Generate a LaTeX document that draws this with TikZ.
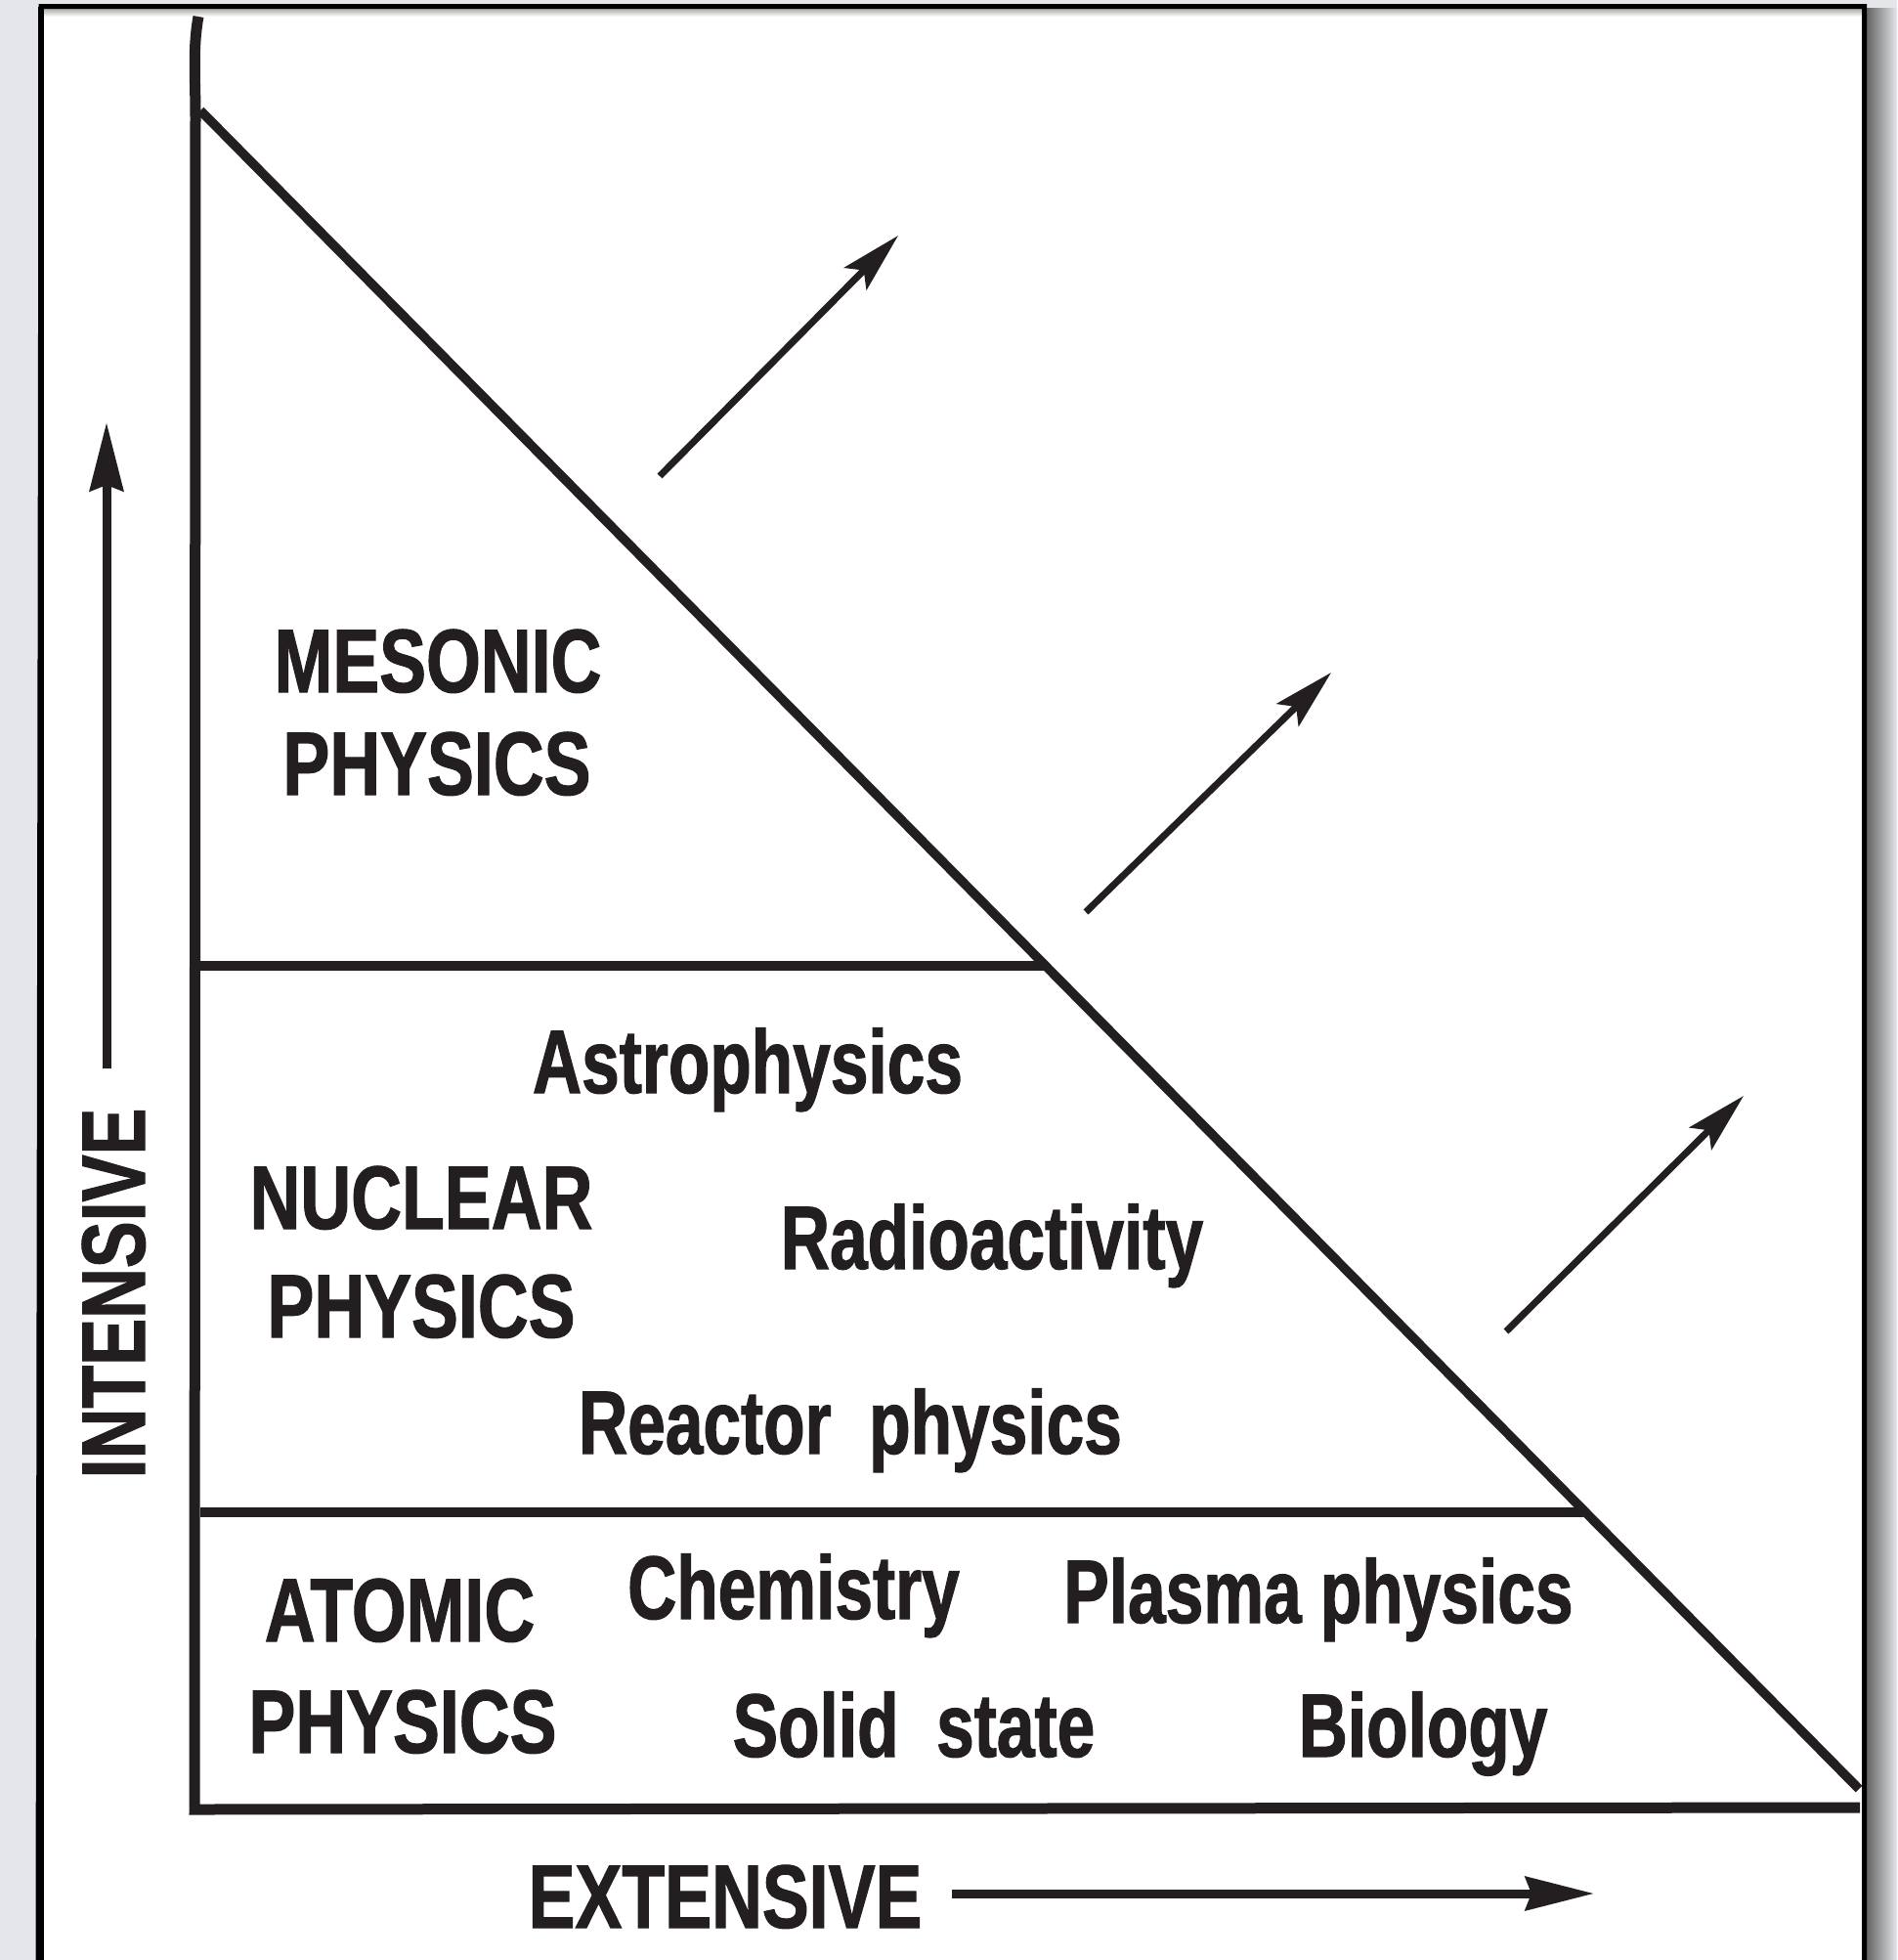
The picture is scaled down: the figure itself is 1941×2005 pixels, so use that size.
\documentclass[tikz,border=0pt]{standalone}
\usepackage{fontspec}
\setmainfont{Liberation Sans}[FakeStretch=0.755, FakeBold=1.2]
\newfontfamily\capsfont{Liberation Sans}[FakeStretch=0.78, FakeBold=1.2]
\usetikzlibrary{arrows.meta}
\definecolor{bggray}{HTML}{E4E6E9}
\definecolor{ink}{HTML}{231F20}
\begin{document}
\begin{tikzpicture}[x=1pt,y=-1pt,
  lbl/.style={font=\fontsize{92}{92}\selectfont\bfseries, text=ink, inner sep=0pt, anchor=base},
  caplbl/.style={lbl, font=\fontsize{92}{92}\capsfont\bfseries},
  axisline/.style={draw=ink, line width=11pt},
  divline/.style={draw=ink, line width=10pt},
  diagline/.style={draw=ink, line width=9.5pt},
  diagarrow/.style={draw=ink, line width=7pt, -{Stealth[length=62pt,width=32pt,inset=12pt]}},
  axisarrow/.style={draw=ink, line width=9pt, -{Stealth[length=70pt,width=34pt,inset=6pt]}}]
\useasboundingbox (0,0) rectangle (1941,2005);
% background and page
\fill[bggray] (0,0) rectangle (1941,2005);
\shade[left color=black!62, right color=bggray] (1909,8) rectangle (1941,2005);
\fill[white] (42,7) rectangle (1908,2010);
\shade[top color=black!32, bottom color=white] (45,9) rectangle (1905,17);
\draw[black, line width=5pt] (39,2010) -- (42,6.5) -- (1907.5,6.5) -- (1907.5,2010);
\draw[black, line width=6pt] (42,6.5) -- (42,2010);
% axes and boundaries
\coordinate (vtop) at (203,17);
\coordinate (origin) at (199,1851);
\coordinate (hend) at (1903,1849);
\coordinate (dtop) at (205,113);
\coordinate (dbot) at (1902,1830);
\coordinate (m1) at (205,988);
\coordinate (m2) at (1069,988);
\coordinate (n1) at (205,1547);
\coordinate (n2) at (1620,1547);
\draw[axisline] (vtop) .. controls (197,50) and (200,80) .. (200,120) -- (origin) -- (hend);
\draw[diagline] (dtop) -- (dbot);
\draw[divline] (m1) -- (m2);
\draw[divline] (n1) -- (n2);
% diagonal arrows
\coordinate (a1s) at (675,487);
\coordinate (a1e) at (919,241);
\coordinate (a2s) at (1111,933);
\coordinate (a2e) at (1362,688);
\coordinate (a3s) at (1541,1362);
\coordinate (a3e) at (1784,1121);
\draw[diagarrow] (a1s) -- (a1e);
\draw[diagarrow] (a2s) -- (a2e);
\draw[diagarrow] (a3s) -- (a3e);
% axis arrows
\coordinate (is) at (109,1093);
\coordinate (ie) at (109,432);
\coordinate (es) at (974,1937);
\coordinate (ee) at (1631,1937);
\draw[axisarrow] (is) -- (ie);
\draw[axisarrow] (es) -- (ee);
% labels
\node[caplbl] (mes) at (448,708) {MESONIC};
\node[caplbl] (mesp) at (447,813) {PHYSICS};
\node[lbl] (astro) at (765,1118) {Astrophysics};
\node[caplbl] (nuc) at (431,1257) {NUCLEAR};
\node[caplbl] (nucp) at (431,1368) {PHYSICS};
\node[lbl] (radio) at (1015,1298) {Radioactivity};
\node[lbl] (react) at (870,1487) {Reactor\ \ physics};
\node[caplbl] (atom) at (409,1679) {ATOMIC};
\node[caplbl] (atomp) at (412,1793) {PHYSICS};
\node[lbl] (chem) at (812,1656) {Chemistry};
\node[lbl] (plasma) at (1349,1660) {Plasma physics};
\node[lbl] (solid) at (935,1797) {Solid\ \ state};
\node[lbl] (bio) at (1456,1797) {Biology};
\node[caplbl] (ext) at (742,1972) {EXTENSIVE};
\node[caplbl, rotate=90] (int) at (148,1323) {INTENSIVE};
\end{tikzpicture}
\end{document}
